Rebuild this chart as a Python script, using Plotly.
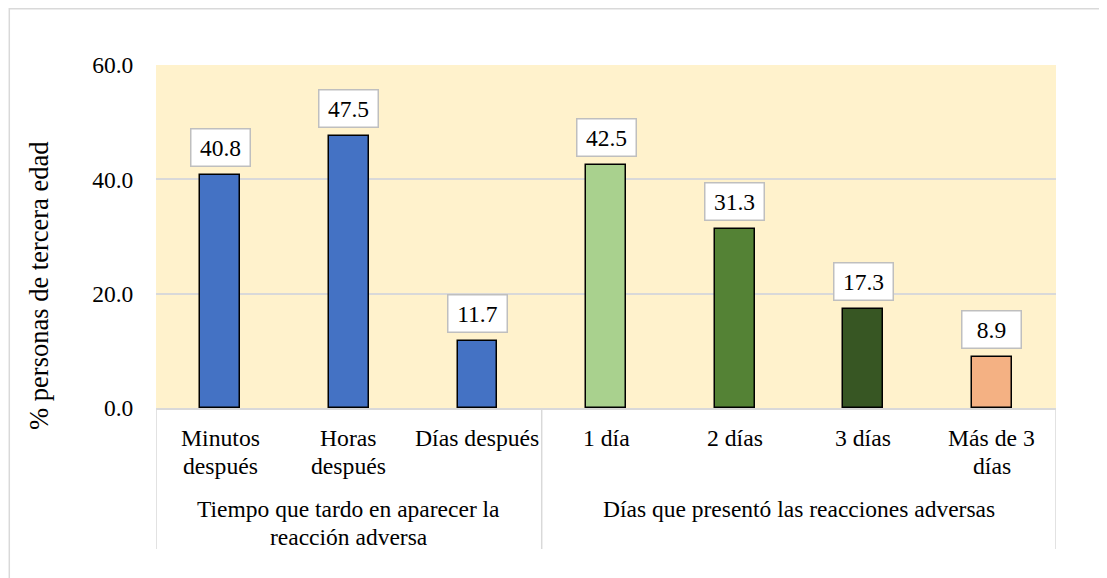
import plotly.graph_objects as go

categories = ["Minutos<br>después", "Horas<br>después", "Días después",
              "1 día", "2 días", "3 días", "Más de 3<br>días"]
values = [40.8, 47.5, 11.7, 42.5, 31.3, 17.3, 8.9]
colors = ["#4472C4", "#4472C4", "#4472C4", "#A9D18E", "#548235", "#375623", "#F4B183"]
groups = ["Tiempo que tardo en aparecer la<br>reacción adversa",
          "Días que presentó las reacciones adversas"]
group_sizes = [3, 4]
y_ticks = [0, 20, 40, 60]
y_title = "% personas de tercera edad"

FONT = "Liberation Serif"
FS = 23.5
FS_X = 23.7
FS_T = 26.5
LINE = 27.5  # line spacing (px) for category labels

x = list(range(len(categories)))

fig = go.Figure()
fig.add_trace(go.Bar(
    x=x, y=values, width=0.31,
    marker=dict(color=colors, line=dict(color="black", width=1.5)),
    hoverinfo="skip",
))

annotations = []
for xi, v in zip(x, values):
    annotations.append(dict(
        x=xi, y=v, xref="x", yref="y", text=f"{v:.1f}", showarrow=False,
        yanchor="bottom", yshift=8, width=56, height=34,
        bgcolor="white", bordercolor="#BFBFBF", borderwidth=1.5, borderpad=1,
        font=dict(family=FONT, size=FS, color="black"),
    ))

# category labels (one annotation per line for Word-like line spacing)
for xi, lab in zip(x, categories):
    for i, line in enumerate(lab.split("<br>")):
        annotations.append(dict(
            x=xi, y=0, xref="x", yref="paper", text=line, showarrow=False,
            yanchor="middle", yshift=-(30 + i * LINE),
            font=dict(family=FONT, size=FS_X, color="black"),
        ))

# group labels and dividers
shapes = []
start = -0.5
bounds = [start]
for g, n in zip(groups, group_sizes):
    center = start + n / 2.0
    for i, line in enumerate(g.split("<br>")):
        annotations.append(dict(
            x=center, y=0, xref="x", yref="paper", text=line, showarrow=False,
            yanchor="middle", yshift=-(101 + i * LINE),
            font=dict(family=FONT, size=FS, color="black"),
        ))
    start += n
    bounds.append(start)
for b in bounds:
    shapes.append(dict(type="line", xref="x", yref="paper", x0=b, x1=b,
                       y0=0, y1=-0.411, line=dict(color="#D9D9D9", width=1.5)))

# outer chart border
shapes.append(dict(type="rect", xref="paper", yref="paper",
                   x0=-0.1630, x1=1.08, y0=-0.7, y1=1.164,
                   line=dict(color="#D9D9D9", width=1.5), layer="below"))

annotations.append(dict(
    x=-0.13, y=0.356, xref="paper", yref="paper", text=y_title, showarrow=False,
    textangle=-90, xanchor="center", yanchor="middle",
    font=dict(family=FONT, size=FS_T, color="black"),
))

fig.update_layout(
    width=1099, height=570,
    margin=dict(l=148, r=51, t=57, b=170),
    paper_bgcolor="white", plot_bgcolor="#FFF2CC",
    showlegend=False,
    font=dict(family=FONT, size=FS, color="black"),
    annotations=annotations, shapes=shapes,
    bargap=0,
)
fig.update_xaxes(
    range=[-0.5, len(categories) - 0.5], tickmode="array", tickvals=x,
    ticktext=[""] * len(x), showgrid=False, zeroline=False,
    showline=True, linecolor="#D9D9D9", linewidth=1.5,
    ticks="", fixedrange=True,
)
fig.update_yaxes(
    range=[0, 60], tickmode="array", tickvals=y_ticks,
    ticktext=[f"{t:.1f}" for t in y_ticks], showgrid=True,
    gridcolor="#D9D9D9", gridwidth=1.5, zeroline=False, showline=False,
    ticks="outside", ticklen=17, tickcolor="rgba(0,0,0,0)",
    tickfont=dict(family=FONT, size=FS, color="black"), fixedrange=True,
)

fig.write_html("out.html")
